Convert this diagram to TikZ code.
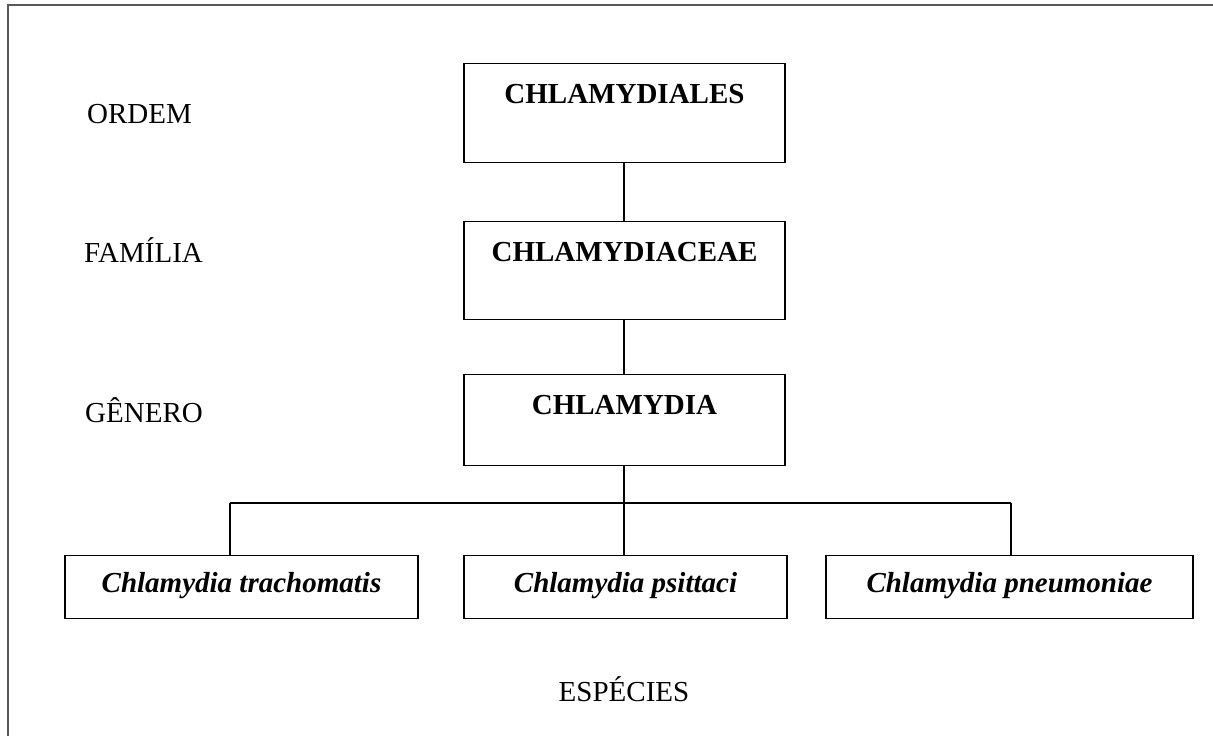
\documentclass[tikz,border=0pt]{standalone}
\usepackage{fontspec}
\setmainfont{Liberation Serif}
\usetikzlibrary{calc}
\begin{document}
\begin{tikzpicture}[
            x = 1pt, y = -1pt,
            every node/.style = {font = \fontsize{29}{32}\selectfont},
            taxon/.style = {draw, line width = 1.4pt, rectangle, inner sep = 0pt,
                minimum width = 321pt, text height = 40pt, font = \fontsize{29}{32}\selectfont\bfseries},
            specie/.style = {draw, line width = 1.4pt, rectangle, inner sep = 0pt,
                text height = 37pt, text depth = 26pt, font = \fontsize{29}{32}\selectfont\bfseries\itshape},
            rank/.style = {inner sep = 0pt, anchor = base west}]
            \tikzset{link/.style = {line width = 1.4pt}}
            \useasboundingbox (0,0) rectangle (1213,736);
            % moldura
            \draw[line width = 2pt, black!65] (8,736) -- (8,5) -- (1213,5);
            % hierarquia
            \node[taxon, text depth = 59pt, anchor = north] (ordem) at (624.5,63) {CHLAMYDIALES};
            \node[taxon, text depth = 58pt, anchor = north] (familia) at (624.5,221) {CHLAMYDIACEAE};
            \node[taxon, text depth = 51pt, anchor = north] (genero) at (624.5,374) {CHLAMYDIA};
            \node[specie, minimum width = 353pt, anchor = north] (trach) at (241.5,555) {Chlamydia trachomatis};
            \node[specie, minimum width = 323pt, anchor = north] (psit) at (625.5,555) {Chlamydia psittaci};
            \node[specie, minimum width = 367pt, anchor = north] (pneu) at (1009.5,555) {Chlamydia pneumoniae};
            % niveis
            \node[rank] (lordem) at (87,123) {ORDEM};
            \node[rank] (lfamilia) at (84,262) {FAMÍLIA};
            \node[rank] (lgenero) at (85,422) {GÊNERO};
            \node[rank, anchor = base] (lespecies) at (624,701) {ESPÉCIES};
            % ligacoes
            \coordinate (jl) at (230,503);
            \coordinate (jr) at (1011,503);
            \draw[link] (ordem.south -| 624,0) -- (familia.north -| 624,0);
            \draw[link] (familia.south -| 624,0) -- (genero.north -| 624,0);
            \draw[link] (genero.south -| 624,0) -- (psit.north -| 624,0);
            \draw[link] (jl) -- (jr);
            \draw[link] (jl) -- (jl |- trach.north);
            \draw[link] (jr) -- (jr |- pneu.north);
        \end{tikzpicture}
\end{document}
